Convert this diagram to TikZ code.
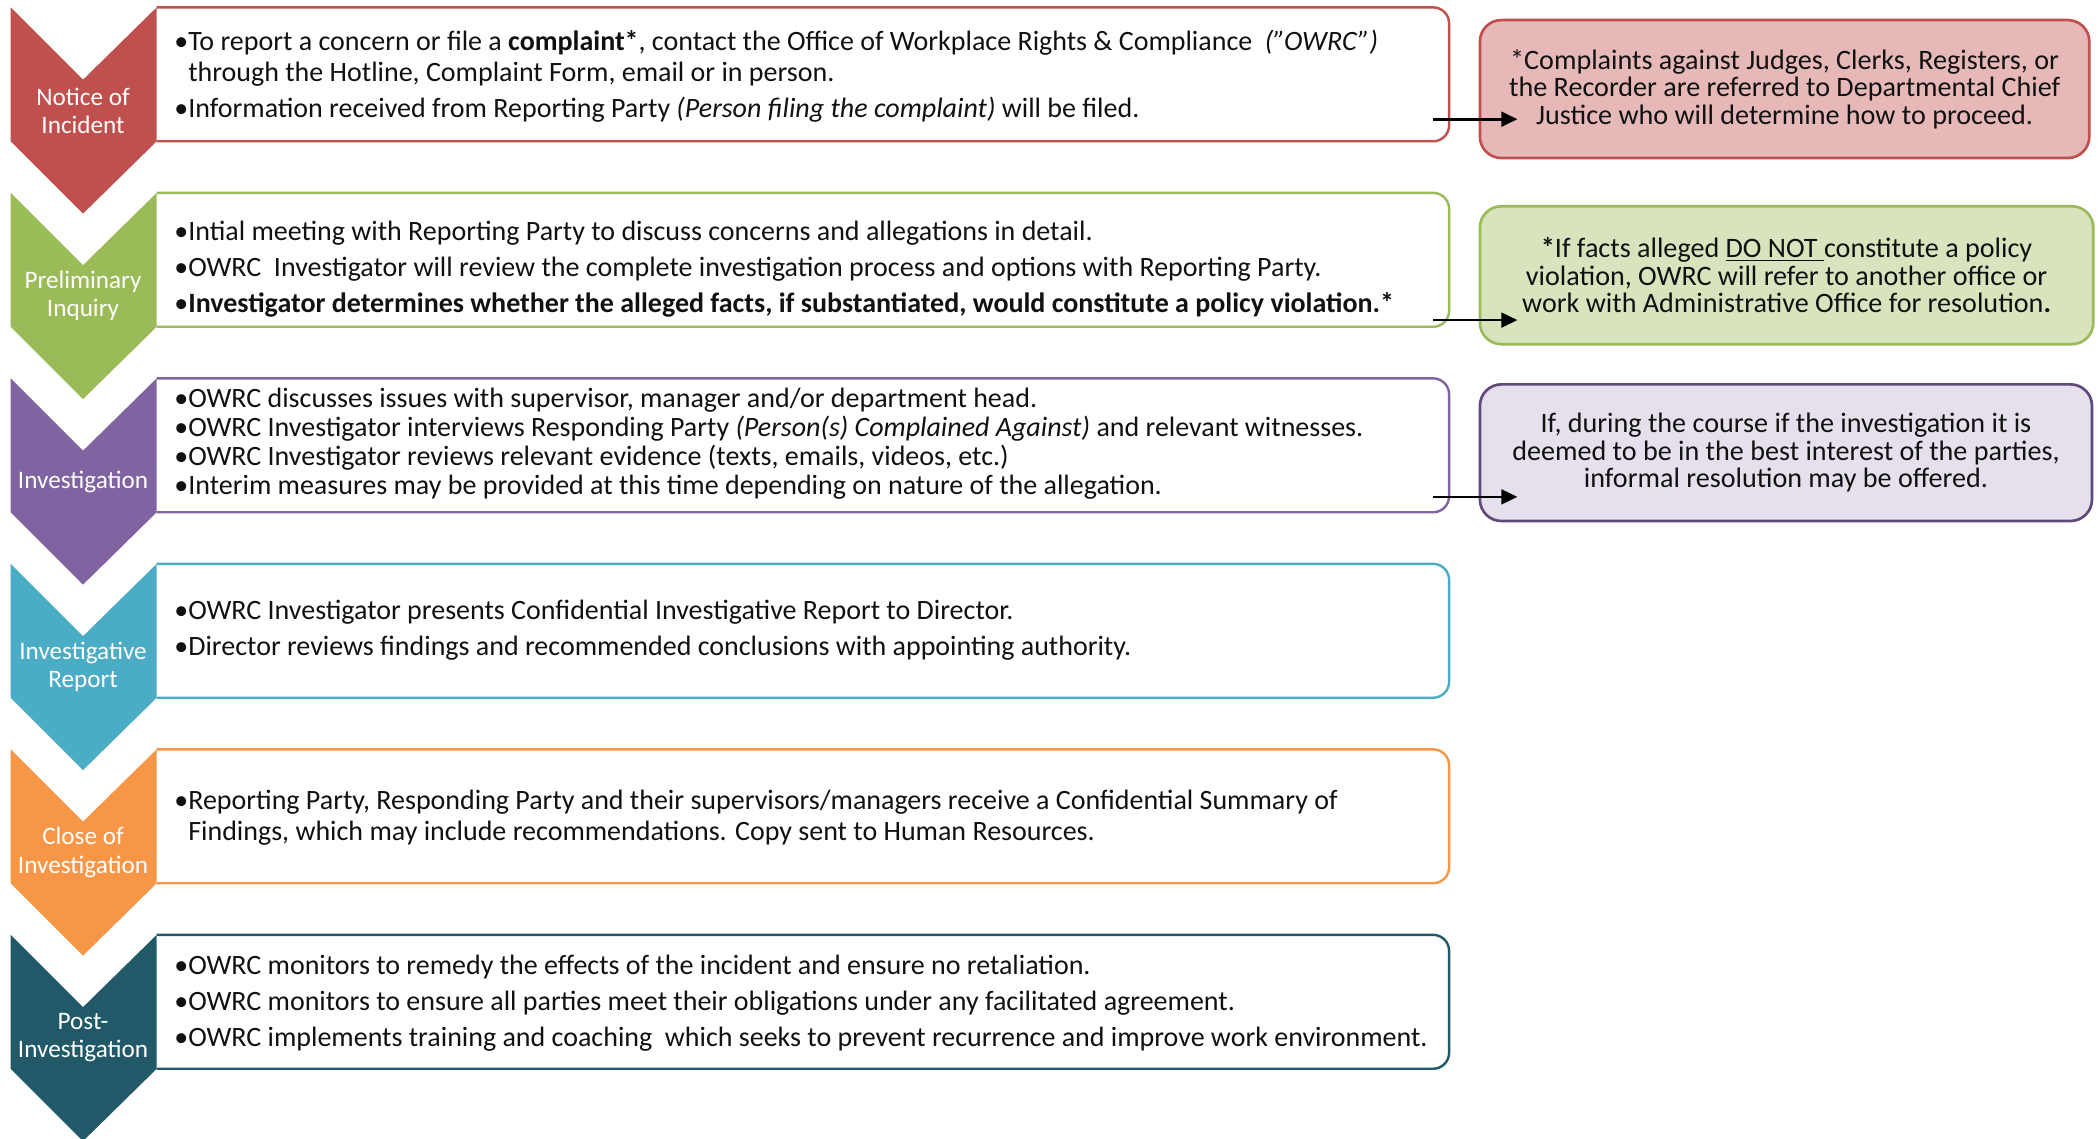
\documentclass[tikz,border=0pt]{standalone}
\usepackage{fontspec}
\setmainfont{Carlito}
\usetikzlibrary{arrows.meta}
\definecolor{cRed}{HTML}{C0504D}
\definecolor{cGreen}{HTML}{9BBB59}
\definecolor{cPurple}{HTML}{8064A2}
\definecolor{cPurpleD}{HTML}{604A7B}
\definecolor{cBlue}{HTML}{4BACC6}
\definecolor{cOrange}{HTML}{F79646}
\definecolor{cTeal}{HTML}{215968}
\definecolor{fRed}{HTML}{E6B9B8}
\definecolor{fGreen}{HTML}{D7E4BD}
\definecolor{fPurple}{HTML}{E5E0EC}
\definecolor{txt}{HTML}{111111}
\newcommand\stagebox[4]{%
  \draw[#2, line width=1.8pt, rounded corners=12pt] (117,#1) -- (1082,#1) -- (1082,#1+100) -- (117,#1+100);
  \fill[#2] (8,#1) -- (62,#1+54) -- (117,#1) -- (117,#1+100) -- (62,#1+154) -- (8,#1+100) -- cycle;
  \node[lbl] (#3) at (62,#1+77) {#4};
}
\newcommand\bul{•}
\newcommand\ind{\phantom{•}}
\begin{document}
\begin{tikzpicture}[x=1pt,y=-1pt,
  lbl/.style={text=white, align=center, font=\fontsize{18.8}{21}\selectfont, inner sep=0pt},
  body/.style={anchor=west, align=left, text=txt, font=\fontsize{20.9}{23}\selectfont, inner sep=0pt},
  rbox/.style={draw=#1, line width=2pt, rounded corners=16pt, align=center, text=txt,
    font=\fontsize{21}{20.5}\selectfont, inner sep=0pt},
  conn/.style={line width=2pt, -{Triangle[length=12pt,width=11pt]}}]
\useasboundingbox (0,0) rectangle (1568,850);
\fill[white] (0,0) rectangle (1568,850);

\stagebox{5.5}{cRed}{c1}{Notice of\\Incident}
\stagebox{144}{cGreen}{c2}{Preliminary\\Inquiry}
\stagebox{282.5}{cPurple}{c3}{Investigation}
\stagebox{421}{cBlue}{c4}{Investigative\\Report}
\stagebox{559.5}{cOrange}{c5}{Close of\\Investigation}
\stagebox{698}{cTeal}{c6}{Post-\\Investigation}

\node[body] (t1) at (130,57) {\bul To report a concern or file a \textbf{complaint*}, contact the Office of Workplace Rights \& Compliance\ \ \textit{("OWRC")}\\
\ind through the Hotline, Complaint Form, email or in person.\\[4pt]
\bul Information received from Reporting Party \textit{(Person filing the complaint)} will be filed.};

\node[body, font=\fontsize{20.9}{27}\selectfont] (t2) at (130,201) {\bul Intial meeting with Reporting Party to discuss concerns and allegations in detail.\\
\bul OWRC\ \ Investigator will review the complete investigation process and options with Reporting Party.\\
\bul \textbf{Investigator determines whether the alleged facts, if substantiated, would constitute a policy violation.*}};

\node[body, font=\fontsize{20.9}{21.6}\selectfont] (t3) at (130,331) {\bul OWRC discusses issues with supervisor, manager and/or department head.\\
\bul OWRC Investigator interviews Responding Party \textit{(Person(s) Complained Against)} and relevant witnesses.\\
\bul OWRC Investigator reviews relevant evidence (texts, emails, videos, etc.)\\
\bul Interim measures may be provided at this time depending on nature of the allegation.};

\node[body, font=\fontsize{20.9}{27}\selectfont] (t4) at (130,470.5) {\bul OWRC Investigator presents Confidential Investigative Report to Director.\\
\bul Director reviews findings and recommended conclusions with appointing authority.};

\node[body] (t5) at (130,610.5) {\bul Reporting Party, Responding Party and their supervisors/managers receive a Confidential Summary of\\
\ind Findings, which may include recommendations. Copy sent to Human Resources.};

\node[body, font=\fontsize{20.9}{27}\selectfont] (t6) at (130,749) {\bul OWRC monitors to remedy the effects of the incident and ensure no retaliation.\\
\bul OWRC monitors to ensure all parties meet their obligations under any facilitated agreement.\\
\bul OWRC implements training and coaching\ \ which seeks to prevent recurrence and improve work environment.};

\node[rbox=cRed, fill=fRed, minimum width=455pt, minimum height=103pt] (r1) at (1332.5,66.5)
  {\raisebox{0pt}[0pt][0pt]{}*Complaints against Judges, Clerks, Registers, or\\the Recorder are referred to Departmental Chief\\Justice who will determine how to proceed.};
\node[rbox=cGreen, fill=fGreen, minimum width=458pt, minimum height=103pt] (r2) at (1334,205.5)
  {\textbf{*}If facts alleged \underline{DO NOT\ }constitute a policy\\violation, OWRC will refer to another office or\\work with Administrative Office for resolution\textbf{.}};
\node[rbox=cPurpleD, fill=fPurple, minimum width=457pt, minimum height=102pt] (r3) at (1333.5,338)
  {If, during the course if the investigation it is\\deemed to be in the best interest of the parties,\\informal resolution may be offered.};

\coordinate (a1s) at (1070,89);  \coordinate (a1e) at (1133,89);
\coordinate (a2s) at (1070,239); \coordinate (a2e) at (1133,239);
\coordinate (a3s) at (1070,371); \coordinate (a3e) at (1133,371);
\draw[conn] (a1s) -- (a1e);
\draw[conn] (a2s) -- (a2e);
\draw[conn] (a3s) -- (a3e);
\end{tikzpicture}
\end{document}
